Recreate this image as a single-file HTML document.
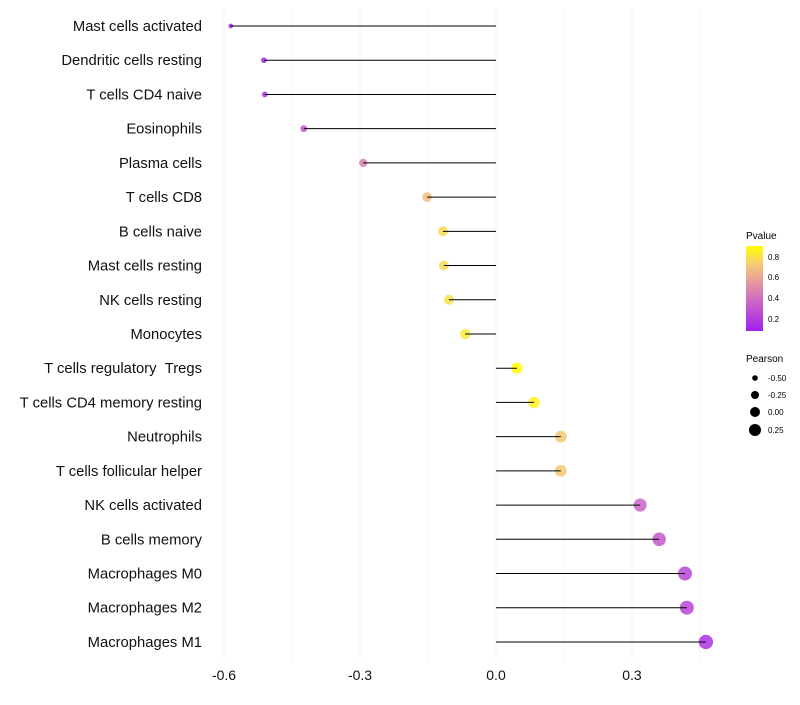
<!DOCTYPE html>
<html><head><meta charset="utf-8"><style>
body{margin:0;background:#fff;font-family:"Liberation Sans",sans-serif}
svg text{font-family:"Liberation Sans",sans-serif}
</style></head><body>
<svg id="chart" width="800" height="700" viewBox="0 0 800 700">
<defs><linearGradient id="pg" x1="0" y1="1" x2="0" y2="0">
<stop offset="0" stop-color="#a020f0"/><stop offset="0.35" stop-color="#cc66c4"/><stop offset="0.6" stop-color="#e8a09a"/><stop offset="0.8" stop-color="#f5cf6e"/><stop offset="1" stop-color="#ffff00"/></linearGradient></defs>
<g id="grid"></g>
<g id="marks"></g>
<g id="ylabels"></g>
<g id="xlabels"></g>
<g>
<text x="746" y="239" font-size="10" fill="#000">Pvalue</text>
<rect x="746" y="246" width="17" height="85" fill="url(#pg)"/>
<text x="768" y="260" font-size="8">0.8</text>
<text x="768" y="280" font-size="8">0.6</text>
<text x="768" y="301" font-size="8">0.4</text>
<text x="768" y="322" font-size="8">0.2</text>
</g>
<g>
<text x="746" y="362" font-size="10">Pearson</text>
<circle cx="755" cy="378" r="2.8"/>
<text x="768" y="381" font-size="8">-0.50</text>
<circle cx="755" cy="395" r="4"/>
<text x="768" y="398" font-size="8">-0.25</text>
<circle cx="755" cy="412" r="5"/>
<text x="768" y="415" font-size="8">0.00</text>
<circle cx="755" cy="430" r="6"/>
<text x="768" y="433" font-size="8">0.25</text>
</g>
</svg>
<script>
const categories=["Mast cells activated","Dendritic cells resting","T cells CD4 naive","Eosinophils","Plasma cells","T cells CD8","B cells naive","Mast cells resting","NK cells resting","Monocytes","T cells regulatory\u00a0\u00a0Tregs","T cells CD4 memory resting","Neutrophils","T cells follicular helper","NK cells activated","B cells memory","Macrophages M0","Macrophages M2","Macrophages M1"];
const pearson=[-0.585,-0.512,-0.51,-0.424,-0.293,-0.152,-0.117,-0.115,-0.104,-0.068,0.046,0.084,0.143,0.143,0.318,0.36,0.417,0.421,0.463];
const pvalues=[0.08,0.12,0.14,0.3,0.45,0.68,0.78,0.78,0.8,0.82,0.9,0.86,0.72,0.72,0.35,0.3,0.22,0.22,0.15];
const xTicks=[-0.6,-0.3,0.0,0.3];
const xTickLabels=["-0.6","-0.3","0.0","0.3"];
const minorTicks=[-0.45,-0.15,0.15,0.45];
const NS="http://www.w3.org/2000/svg";
const xs=v=>496+v*453.33;
const ys=i=>26+i*34.22;
function rs(v){const k=[[-0.6,2.2],[-0.5,3],[-0.25,4.4],[0,5.4],[0.25,6.3],[0.5,7.3]];for(let j=1;j<k.length;j++){if(v<=k[j][0]){const t=(v-k[j-1][0])/(k[j][0]-k[j-1][0]);return k[j-1][1]+t*(k[j][1]-k[j-1][1]);}}return 7.3;}
function col(p){const st=[[0.07,[160,32,240]],[0.36,[204,102,196]],[0.57,[232,160,154]],[0.74,[245,207,110]],[0.9,[255,255,0]]];
 if(p<=st[0][0])return`rgb(${st[0][1]})`;for(let k=1;k<st.length;k++){if(p<=st[k][0]){const t=(p-st[k-1][0])/(st[k][0]-st[k-1][0]);const a=st[k-1][1],b=st[k][1];return`rgb(${a.map((c,j)=>Math.round(c+(b[j]-c)*t))})`;}}return"rgb(255,255,0)";}
function mk(t,a,p){const e=document.createElementNS(NS,t);for(const k in a)e.setAttribute(k,a[k]);p.appendChild(e);return e;}
const g=document.getElementById('grid'),m=document.getElementById('marks'),yl=document.getElementById('ylabels'),xl=document.getElementById('xlabels');
xTicks.concat(minorTicks).forEach(v=>{const l=mk('line',{x1:xs(v),x2:xs(v),y1:8,y2:660,stroke:'#f3f3f3','stroke-width':1},g);

});
xTicks.forEach((v,i)=>{const t=mk('text',{x:xs(v),y:680,'font-size':14,'text-anchor':'middle',fill:'#111'},xl);t.textContent=xTickLabels[i];

});
categories.forEach((c,i)=>{const y=ys(i);
const t=mk('text',{x:202,y:y+5,'font-size':14.8,'text-anchor':'end',fill:'#111'},yl);t.textContent=c;


const ci=mk('circle',{cx:xs(pearson[i]),cy:y,r:rs(pearson[i]),fill:col(pvalues[i]),'fill-opacity':0.85},m);


const l=mk('line',{x1:xs(0),x2:xs(pearson[i]),y1:y,y2:y,stroke:'#000','stroke-width':1},m);

});
</script>
</body></html>
